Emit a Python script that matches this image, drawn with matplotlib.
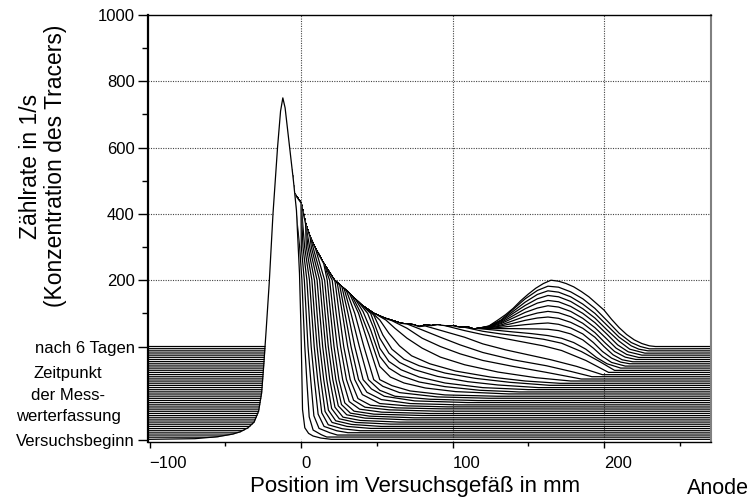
import numpy as np
import matplotlib
matplotlib.use("Agg")
import matplotlib.pyplot as plt

plt.rcParams['font.family'] = ['Liberation Sans', 'DejaVu Sans']

# position in mm / level read on the count axis of the stacked chart
front_pos = [-101, -70, -55, -45, -40, -35, -31, -28, -26, -24.5, -23, -21, -18.5, -15.5, -13.5, -12,
             -10.5, -7.5, -5, -3, -1, 0, 1, 2.5, 5, 8, 13, 20, 270.3]
front_level = [-280, -278, -272, -264, -257, -245, -228, -195, -140, -50, 50, 190, 400, 600, 710, 750,
               720, 600, 500, 410, 220, 50, -190, -245, -262, -270, -276, -280, -280]

# part of the later traces hidden behind the start peak
shoulder_pos = [-15, -12, -9, -6, -4.5]
shoulder_level = [420, 540, 560, 530, 462]

# last measurement (nach 6 Tagen), the top curve
envelope_pos = [0, 3, 6, 9, 15, 22, 30, 40, 48, 55, 62, 66, 70, 74, 78, 82, 86, 90, 95, 100, 105, 110,
                114, 117, 124, 130, 135, 140, 145, 150, 155, 160, 165, 170, 175, 180, 185, 190, 195,
                200, 205, 210, 215, 220, 225, 230, 234]
envelope_level = [433, 370, 330, 300, 250, 200, 168, 125, 100, 86, 76, 70, 68, 66, 60, 65, 63, 66, 60,
                  63, 58, 59, 53, 55, 62, 80, 96, 115, 138, 158, 176, 190, 200, 197, 190, 180, 166, 150,
                  130, 110, 82, 57, 36, 20, 9, 2, 0]

# traces in between (1 = first after Versuchsbeginn ... 42 = one before the last)
tail_pos = [
    [-0.9, 0.6, 1.5, 2.5, 3.8, 5.4, 8.0, 13.4, 17],
    [0.2, 2.2, 3.4, 4.6, 6.4, 8.5, 11.9, 19, 24],
    [1.3, 3.9, 5.3, 6.7, 8.8, 11.3, 15.2, 23.5, 31],
    [2.4, 5.6, 7.1, 8.7, 11, 13.7, 18, 27.2, 39],
    [3.5, 7.2, 8.8, 10.6, 13, 15.9, 20.5, 30.4, 46],
    [4.6, 8.9, 10.6, 12.4, 15, 18.1, 22.9, 33.3, 53],
    [5.7, 10.6, 12.4, 14.3, 17, 20.2, 25.3, 36.2, 59],
    [6.8, 12.3, 14.2, 16.2, 19, 22.4, 27.7, 39.1, 65],
    [7.9, 13.9, 15.9, 18, 21, 24.6, 30.2, 42.3, 70],
    [9.5, 15.6, 17.7, 19.9, 23, 26.7, 32.6, 45.2, 75],
    [17.3, 19.5, 21.8, 25, 28.9, 35, 48.1, 80],
    [18.9, 21.3, 23.9, 27.5, 31.8, 38.7, 53.3, 85],
    [20.6, 23.2, 26.1, 30, 34.7, 42.2, 58.2, 89],
    [22.5, 25.2, 28.2, 32.5, 37.6, 45.8, 63.1, 93],
    [24, 27.3, 30.8, 35.5, 40.5, 52, 70, 97],
    [25.5, 29, 33, 38, 43.5, 53, 72, 104],
    [27, 31, 35.5, 41, 46.5, 55, 75, 110],
    [28.5, 33, 38.5, 44.5, 52, 62, 85, 117],
    [30, 35.5, 41.5, 48, 54, 65, 90, 124],
    [32, 38, 45, 52, 60, 72, 95, 130],
    [34, 39, 45, 52, 59, 68, 82, 102, 137],
    [36, 41, 46, 52, 58, 66, 78, 95, 118, 144],
    [38, 44, 48, 52, 58, 66, 78, 95, 120, 150],
    [40, 46, 52, 58, 65, 75, 90, 110, 130, 157],
    [43, 48, 54, 60, 68, 78, 95, 115, 138, 164],
    [46, 52, 58, 65, 73, 85, 102, 125, 148, 171],
    [50, 56, 62, 70, 80, 92, 108, 130, 155, 178],
    [60, 70, 80, 92, 105, 120, 140, 162, 185],
    [70, 80, 92, 105, 120, 140, 162, 178, 192],
    [82, 95, 108, 120, 135, 150, 165, 182, 199],
    [95, 108, 120, 130, 145, 160, 172, 188, 203],
    [108, 120, 132, 147, 160, 172, 185, 197, 207],
    [117.5, 127, 140, 152, 163, 172, 180, 188, 195, 202, 211],
    [124, 140, 156, 163, 170, 178, 186, 193, 199, 205, 214],
    [124, 132, 140, 148, 156, 163, 170, 178, 186, 193, 199, 205, 211, 217],
    [124, 132, 140, 148, 156, 163, 170, 178, 186, 194, 200, 206, 212, 219],
    [124, 132, 140, 148, 156, 163, 170, 178, 186, 194, 201, 207, 214, 221],
    [124, 132, 140, 148, 156, 163, 170, 178, 186, 194, 202, 208, 215, 223],
    [124, 132, 140, 148, 156, 163, 170, 178, 186, 194, 202, 209, 216, 225],
    [124, 132, 140, 148, 156, 163, 170, 178, 186, 194, 202, 210, 217, 227],
    [124, 132, 140, 148, 156, 163, 170, 178, 186, 194, 202, 210, 218, 223, 229],
    [124, 132, 140, 148, 156, 163, 170, 178, 186, 194, 202, 210, 218, 224, 230],
]
tail_level = [
    [300, 200, 100, 0, -100, -212, -252, -266, -273],
    [300, 200, 100, 0, -100, -209, -247, -260, -267],
    [300, 200, 100, 0, -100, -204, -241, -254, -260],
    [300, 200, 100, 0, -100, -200, -236, -248, -254],
    [300, 200, 100, 0, -100, -196, -229, -241, -247],
    [300, 200, 100, 0, -100, -192, -224, -235, -241],
    [300, 200, 100, 0, -100, -187, -218, -229, -234],
    [300, 200, 100, 0, -100, -183, -213, -223, -228],
    [300, 200, 100, 0, -100, -179, -206, -216, -221],
    [296, 200, 100, 0, -100, -175, -201, -210, -215],
    [200, 100, 0, -100, -170, -195, -204, -208],
    [200, 100, 0, -100, -166, -189, -198, -202],
    [200, 100, 0, -100, -162, -183, -191, -195],
    [195, 100, 0, -100, -157, -177, -185, -188],
    [190, 100, 0, -100, -145, -172, -179, -182],
    [186, 100, 0, -100, -138, -160, -172, -176],
    [180, 100, 0, -100, -128, -150, -164, -169],
    [174, 100, 0, -100, -132, -150, -159, -163],
    [168, 100, 0, -100, -120, -139, -152, -156],
    [160, 100, 0, -100, -118, -134, -146, -150],
    [150, 105, 35, -60, -92, -110, -125, -136, -143],
    [142, 105, 50, -30, -65, -88, -107, -121, -132, -137],
    [134, 100, 55, -5, -45, -70, -92, -110, -124, -130],
    [125, 100, 25, -20, -48, -70, -90, -106, -116, -124],
    [116, 95, 35, -8, -38, -58, -80, -96, -108, -117],
    [106, 80, 40, 2, -28, -52, -74, -92, -104, -111],
    [96, 80, 55, 25, -5, -32, -55, -77, -94, -104],
    [78, 55, 25, 0, -22, -42, -60, -78, -98],
    [68, 50, 28, 5, -18, -40, -58, -75, -91],
    [62, 45, 28, 8, -10, -25, -40, -60, -85],
    [63, 48, 36, 28, 15, 2, -12, -42, -78],
    [58, 46, 38, 30, 22, 10, -15, -45, -72],
    [54, 50, 44, 39, 33, 25, 12, -8, -33, -52, -65],
    [54, 54, 53, 52, 48, 38, 20, -5, -30, -48, -59],
    [55, 58, 62, 66, 69, 71, 67, 56, 38, 12, -15, -35, -47, -52],
    [56, 62, 70, 79, 86, 89, 85, 73, 55, 28, 0, -25, -40, -46],
    [57, 65, 78, 91, 101, 106, 102, 90, 70, 42, 10, -15, -32, -39],
    [58, 69, 86, 103, 116, 123, 119, 106, 85, 57, 22, -5, -24, -33],
    [59, 72, 93, 114, 131, 139, 135, 121, 100, 72, 37, 5, -16, -26],
    [60, 75, 100, 124, 144, 154, 150, 136, 114, 86, 50, 16, -8, -20],
    [61, 78, 106, 134, 157, 168, 164, 150, 128, 100, 64, 28, 2, -8, -13],
    [61, 80, 112, 144, 169, 182, 179, 165, 144, 115, 78, 40, 12, 0, -7],
]

n_traces = len(tail_pos) + 2
x_min, x_max = -101, 270.3
baselines = np.linspace(front_level[0], 0, n_traces)


def trace_points(k):
    base = baselines[k]
    if k == 0:
        return np.array(front_pos), np.array(front_level)
    if k == n_traces - 1:
        own_x, own_y = [], []
        first = np.inf
    else:
        own_x, own_y = tail_pos[k - 1], tail_level[k - 1]
        first = own_x[0]
    xs = [x_min, -22] + shoulder_pos
    ys = [base, base] + shoulder_level
    for x, y in zip(envelope_pos, envelope_level):
        if x < first:
            xs.append(x)
            ys.append(y)
    xs += own_x
    ys += own_y
    xs.append(x_max)
    ys.append(base)
    return np.array(xs, dtype=float), np.array(ys, dtype=float)


fig = plt.figure(figsize=(7.52, 5.0), dpi=100)
ax = fig.add_axes([148 / 752, 1 - 442 / 500, (710.5 - 148) / 752, (442 - 15) / 500])

for k in range(n_traces - 1, -1, -1):
    x, y = trace_points(k)
    z = 2 * (n_traces - k) + 2
    ax.fill_between(x, baselines[k], y, color='white', lw=0, zorder=z)
    ax.plot(x, y, color='black', lw=0.9, zorder=z + 1)

ax.set_xlim(x_min, x_max)
ax.set_ylim(-288, 1000)

for gx in [0, 100, 200]:
    ax.axvline(gx, color='#444444', lw=0.8, ls=(0, (1, 1.2)), zorder=1)
for gy in [200, 400, 600, 800]:
    ax.axhline(gy, color='#444444', lw=0.8, ls=(0, (1, 1.2)), zorder=1)

ax.set_xticks([-100, 0, 100, 200])
ax.set_xticks([-50, 50, 150, 250], minor=True)
ax.set_yticks([-282, 0, 200, 400, 600, 800, 1000])
ax.set_yticklabels(['Versuchsbeginn', 'nach 6 Tagen', '200', '400', '600', '800', '1000'])
ax.set_yticks([100, 300, 500, 700, 900], minor=True)
ax.tick_params(axis='y', which='major', direction='out', length=7, width=1, pad=2.5, labelsize=12)
ax.tick_params(axis='y', which='minor', direction='out', length=4, width=1)
ax.tick_params(axis='x', which='major', direction='out', length=4, width=1, pad=6, labelsize=12)
ax.tick_params(axis='x', which='minor', direction='out', length=3, width=1)
for lab in ax.get_xticklabels():
    lab.set_ha('left')

for side in ['top', 'bottom']:
    ax.spines[side].set_linewidth(1.0)
ax.spines['left'].set_linewidth(1.6)
ax.spines['right'].set_color('#808080')
ax.spines['right'].set_linewidth(1.5)
for s in ax.spines.values():
    s.set_zorder(200)

fig.text(43 / 752, 1 - 166 / 500, 'Zählrate in 1/s\n(Konzentration des Tracers)', rotation=90,
         ha='center', va='center', multialignment='center', fontsize=16.5, linespacing=1.15)
fig.text(68 / 752, 1 - 395 / 500, 'Zeitpunkt\nder Mess-\nwerterfassung', ha='center', va='center',
         multialignment='center', fontsize=12, linespacing=1.55)
fig.text(415 / 752, 1 - 492 / 500, 'Position im Versuchsgefäß in mm', ha='center', va='baseline',
         fontsize=16)
fig.text(749 / 752, 1 - 494 / 500, 'Anode', ha='right', va='baseline', fontsize=15.5)

fig.savefig('out.png', dpi=100)
